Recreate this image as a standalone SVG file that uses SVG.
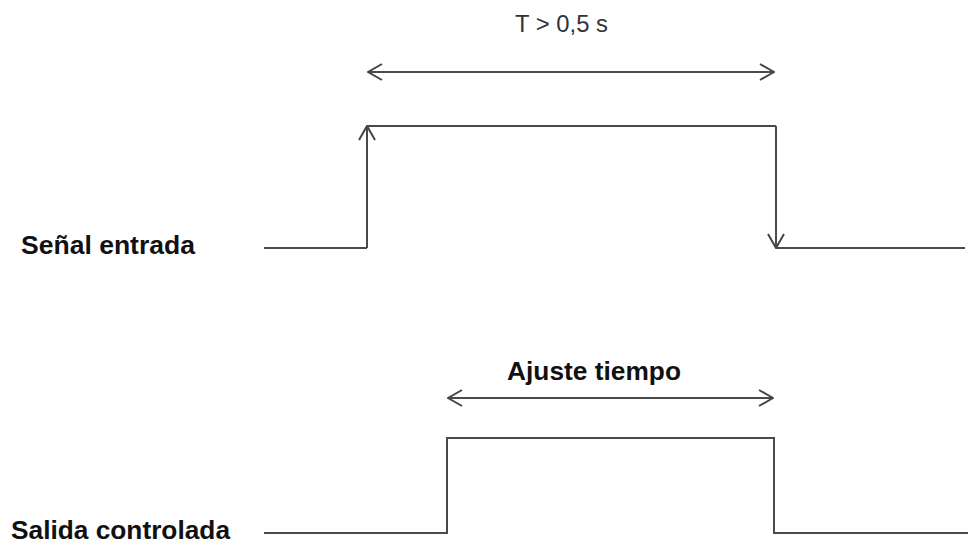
<svg xmlns="http://www.w3.org/2000/svg" width="971" height="546" viewBox="0 0 971 546">
<defs>
<marker id="arr" viewBox="0 0 16 18" refX="15" refY="9" markerWidth="16" markerHeight="18" markerUnits="userSpaceOnUse" orient="auto-start-reverse">
<path d="M1,1 L15,9 L1,17" fill="none" stroke="#444" stroke-width="2"/>
</marker>
</defs>
<style>
.ln{fill:none;stroke:#4a4a4a;stroke-width:2}
.lbl{font-family:"Liberation Sans",Arial,sans-serif;font-weight:bold;font-size:26px;fill:#111}
.tt{font-family:"Liberation Sans",Arial,sans-serif;font-size:24px;fill:#333}
</style>
<rect width="971" height="546" fill="#fff"/>
<g id="connectors">
<path class="ln" d="M368,72 L774,72" marker-start="url(#arr)" marker-end="url(#arr)"/>
<path class="ln" d="M448,398 L773,398" marker-start="url(#arr)" marker-end="url(#arr)"/>
</g>
<g id="senal-entrada">
<path class="ln" d="M264,248 L367,248"/>
<path class="ln" d="M367,248 L367,126" marker-end="url(#arr)"/>
<path class="ln" d="M367,126 L776,126"/>
<path class="ln" d="M776,126 L776,248" marker-end="url(#arr)"/>
<path class="ln" d="M776,248 L965,248"/>
<text class="lbl" x="21" y="254" textLength="174" lengthAdjust="spacingAndGlyphs">Señal entrada</text>
</g>
<g id="salida-controlada">
<path class="ln" d="M264,533 L447,533 L447,438 L774,438 L774,533 L968,533"/>
<text class="lbl" x="11" y="539" textLength="219" lengthAdjust="spacingAndGlyphs">Salida controlada</text>
</g>
<g id="label-t">
<text class="tt" x="515" y="32" textLength="93" lengthAdjust="spacingAndGlyphs">T &gt; 0,5 s</text>
</g>
<g id="label-ajuste">
<text class="lbl" x="507" y="380" textLength="174" lengthAdjust="spacingAndGlyphs">Ajuste tiempo</text>
</g>
</svg>
